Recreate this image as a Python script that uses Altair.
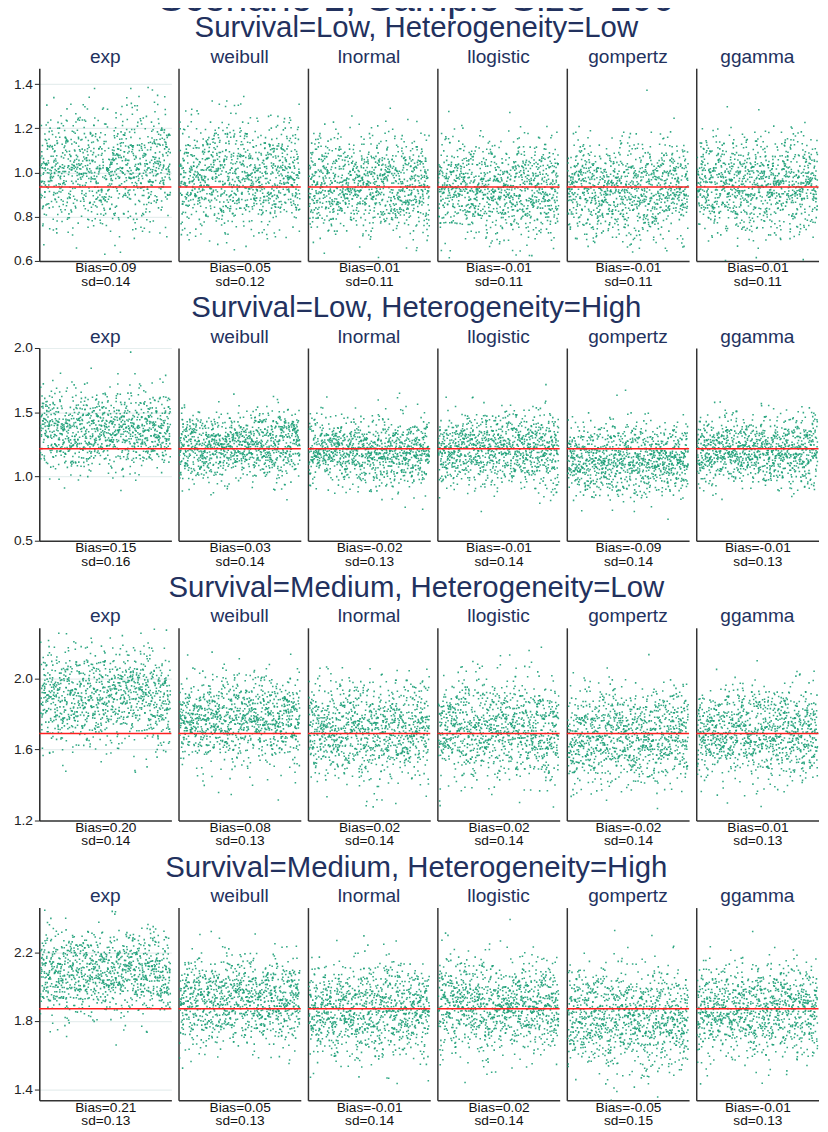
import altair as alt
import numpy as np
import pandas as pd

alt.data_transformers.disable_max_rows()

main_title = "Scenario 1, Sample Size=100"
row_titles = [
    "Survival=Low, Heterogeneity=Low",
    "Survival=Low, Heterogeneity=High",
    "Survival=Medium, Heterogeneity=Low",
    "Survival=Medium, Heterogeneity=High",
]
models = ["exp", "weibull", "lnormal", "llogistic", "gompertz", "ggamma"]
true_values = [0.935, 1.216, 1.69, 1.87]
bias = [
    [0.09, 0.05, 0.01, -0.01, -0.01, 0.01],
    [0.15, 0.03, -0.02, -0.01, -0.09, -0.01],
    [0.20, 0.08, 0.02, 0.02, -0.02, 0.01],
    [0.21, 0.05, -0.01, 0.02, -0.05, -0.01],
]
sds = [
    [0.14, 0.12, 0.11, 0.11, 0.11, 0.11],
    [0.16, 0.14, 0.13, 0.14, 0.14, 0.13],
    [0.14, 0.13, 0.14, 0.14, 0.14, 0.13],
    [0.13, 0.13, 0.14, 0.14, 0.15, 0.13],
]
y_domains = [[0.6, 1.472], [0.5, 2.0], [1.2, 2.285], [1.335, 2.46]]
y_ticks = [
    [0.6, 0.8, 1.0, 1.2, 1.4],
    [0.5, 1.0, 1.5, 2.0],
    [1.2, 1.4, 1.6, 1.8, 2.0, 2.2],
    [1.4, 1.6, 1.8, 2.0, 2.2, 2.4],
]
n_sims = 1000

NAVY = "#22315e"
FONT = "Liberation Sans"
rng = np.random.default_rng(7)

rows = []
for r, rt in enumerate(row_titles):
    panels = []
    # when the top tick label overhangs the plot top, pull the first panel title down
    top_overhang = y_ticks[r][-1] >= y_domains[r][1] - 1e-9
    for m_i, m in enumerate(models):
        mean = true_values[r] + bias[r][m_i]
        vals = np.round(rng.normal(mean, sds[r][m_i], n_sims), 3)
        df = pd.DataFrame({"sim": np.arange(1, n_sims + 1), "est": vals})
        first = m_i == 0
        yscale = alt.Scale(domain=y_domains[r], nice=False, zero=False)
        if first:
            yaxis = alt.Axis(values=y_ticks[r], format=".1f", title=None, grid=True,
                             gridColor="#e6eeee", gridWidth=1.2, labelFontSize=14,
                             labelColor="#222", tickColor="#222", domainColor="#222",
                             domainWidth=1.5, tickSize=5, labelPadding=2)
        else:
            yaxis = alt.Axis(title=None, labels=False, ticks=False, grid=False,
                             domainColor="#333", domainWidth=1.5)
        xaxis = alt.Axis(title=[f"Bias={bias[r][m_i]:.2f}", f"sd={sds[r][m_i]:.2f}"],
                         labels=False, ticks=False, grid=False, domainColor="#333",
                         domainWidth=1.5, titleFontSize=14, titleFontWeight="normal",
                         titleColor="#111", titlePadding=0, titleLineHeight=14)
        pts = alt.Chart(df).mark_square(size=2.5, color="#1b9e77", opacity=0.9, clip=True).encode(
            x=alt.X("sim:Q", scale=alt.Scale(domain=[-8, 1008], nice=False, zero=False), axis=xaxis),
            y=alt.Y("est:Q", scale=yscale, axis=yaxis),
        )
        rule = alt.Chart(pd.DataFrame({"est": [true_values[r]]})).mark_rule(
            color="#ff2020", strokeWidth=1.5).encode(y=alt.Y("est:Q", scale=yscale))
        off = 1 - (7 if (first and top_overhang) else 0)
        panel = alt.layer(pts, rule).properties(
            width=135 if first else 125, height=197,
            title=alt.TitleParams(m, fontSize=19.5, fontWeight="normal", color=NAVY, offset=off),
        )
        panels.append(panel)
    row = alt.hconcat(*panels, spacing=5.3).properties(
        title=alt.TitleParams(rt, fontSize=30, fontWeight="normal", color=NAVY, anchor="middle", offset=4)
    )
    rows.append(row)

chart = alt.vconcat(*rows, spacing=5).properties(
    title=alt.TitleParams(main_title, fontSize=40, fontWeight="normal", color=NAVY, anchor="middle", offset=-5),
    padding={"top": -42, "left": 5, "right": 0, "bottom": 0},
).configure(font=FONT).configure_view(stroke=None)

chart.save("out.html", embed_options={"renderer": "svg", "actions": False})
